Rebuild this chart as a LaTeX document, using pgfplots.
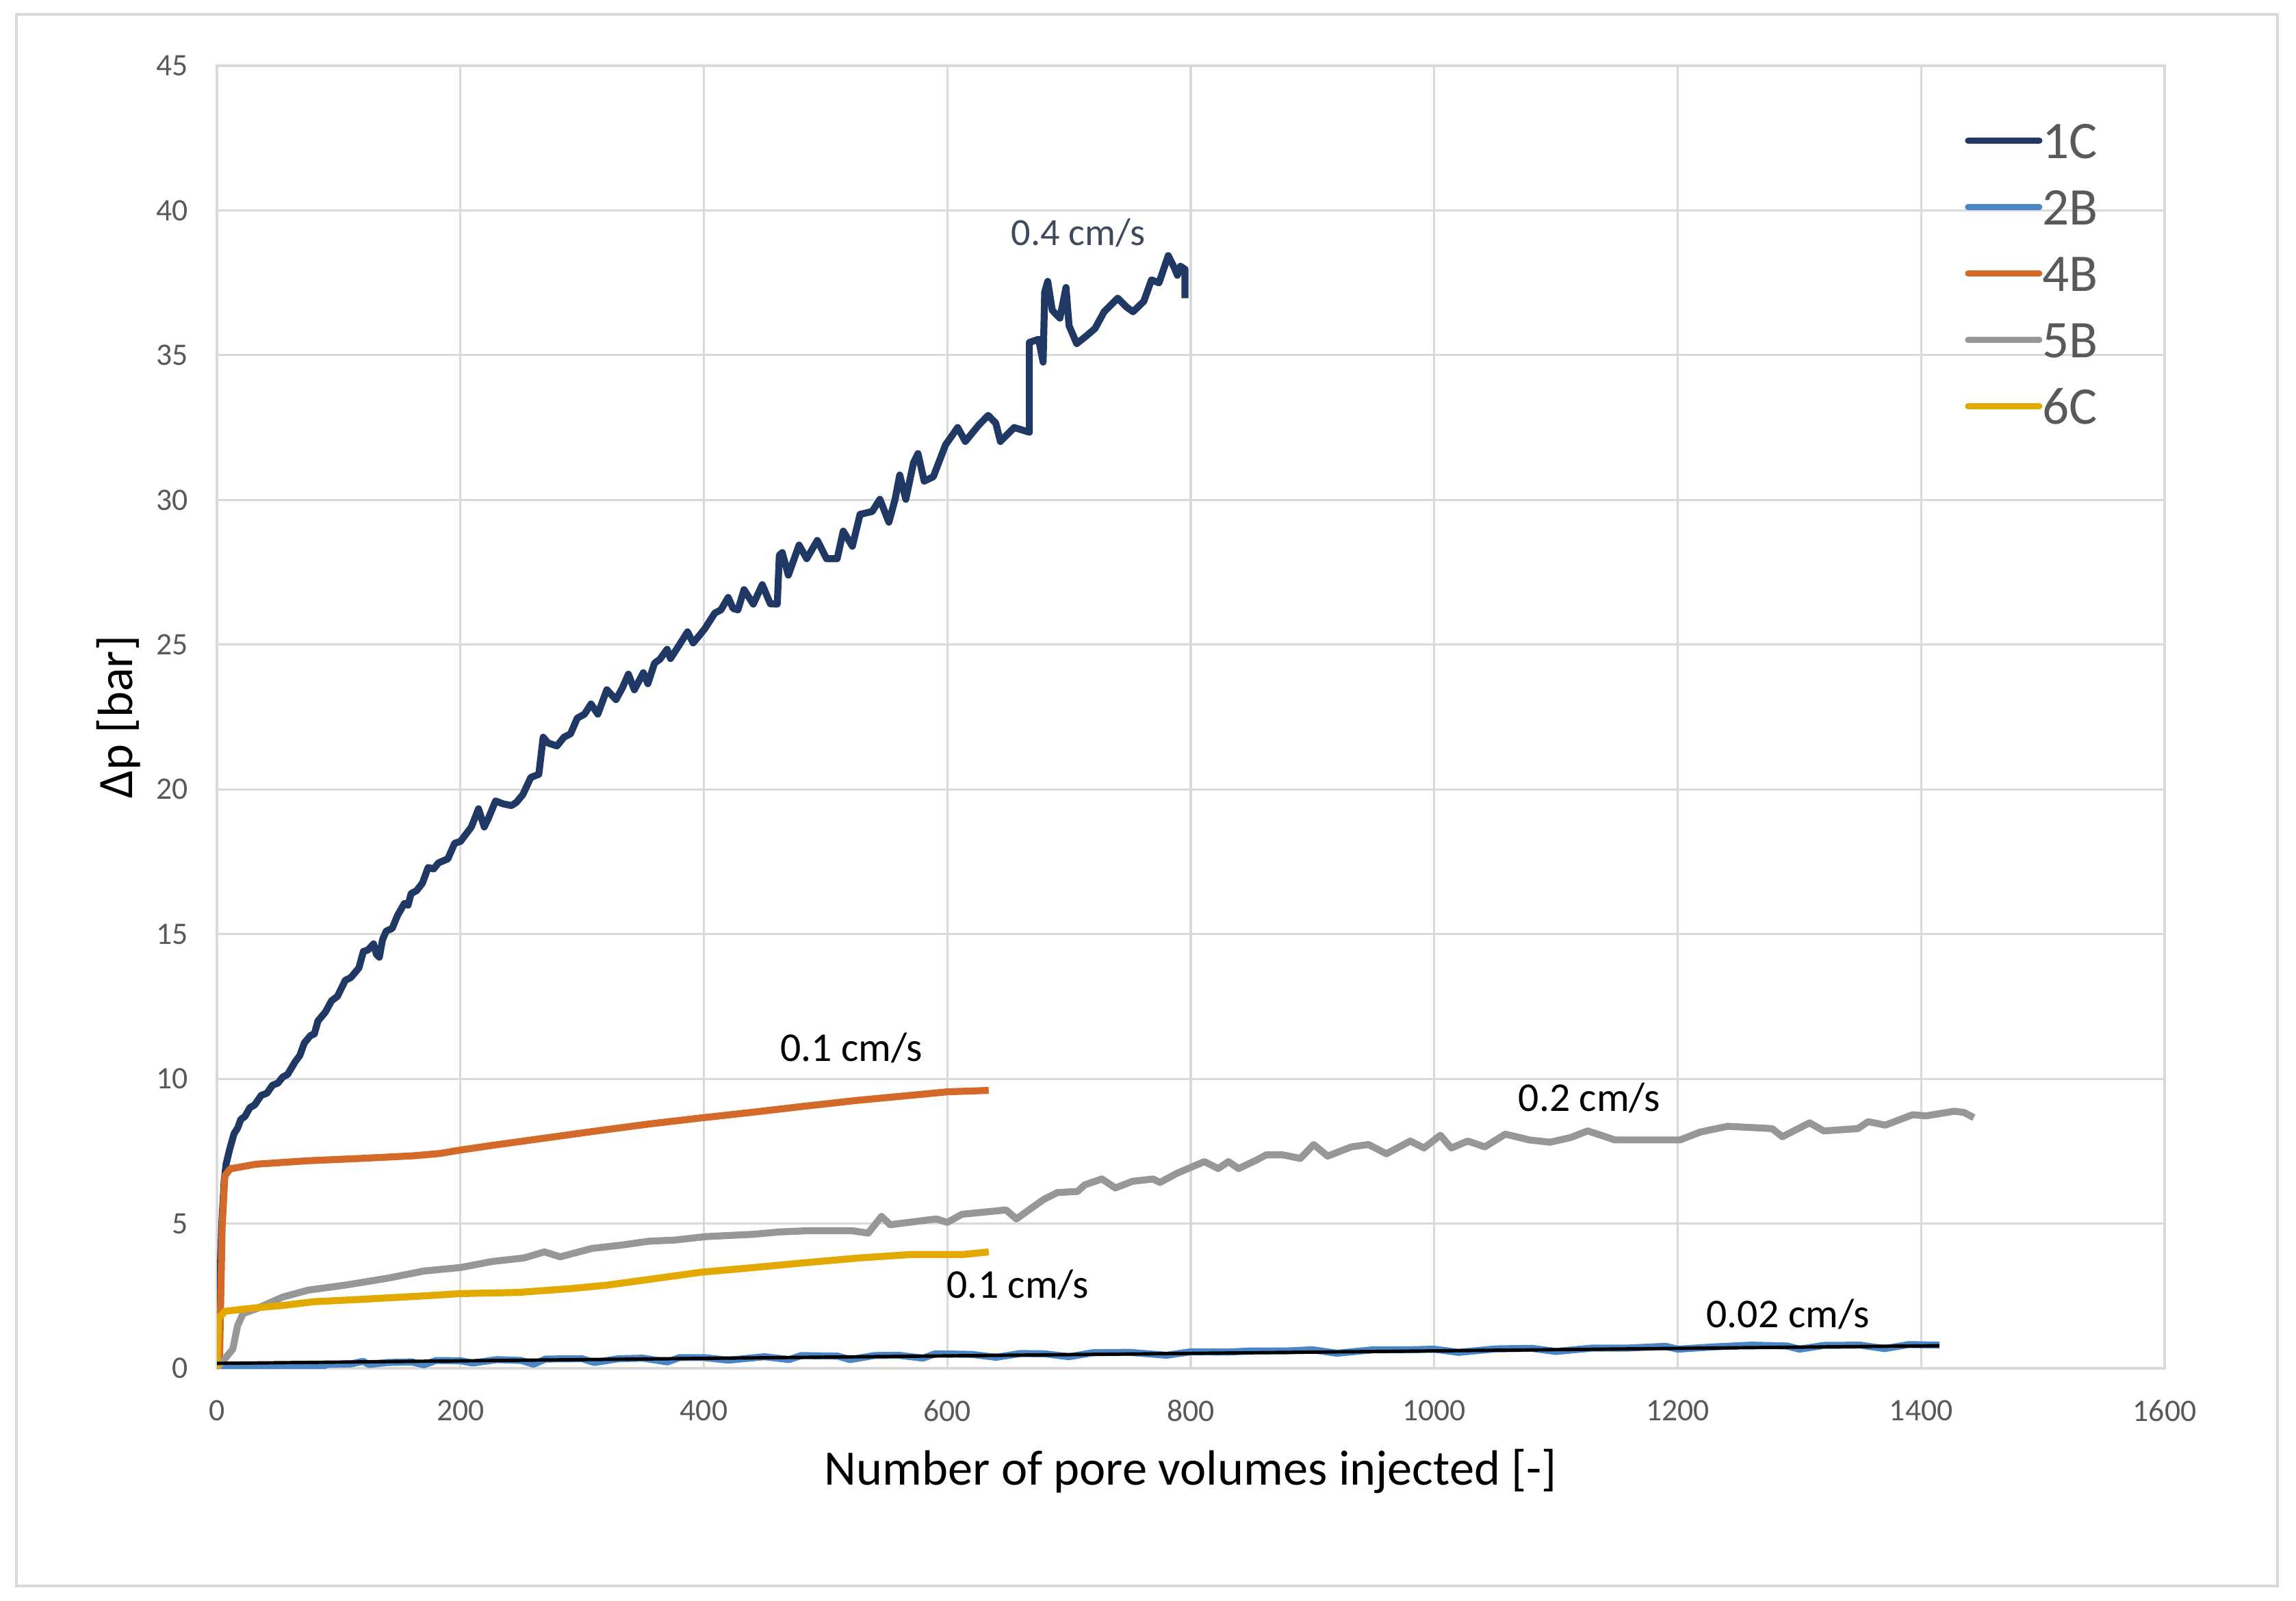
\documentclass[border=0pt]{standalone}
\usepackage{fontspec}
\setmainfont{Carlito}
\usepackage{pgfplots}
\pgfplotsset{compat=1.18}

\definecolor{c1C}{HTML}{1F3864}
\definecolor{c2B}{HTML}{4A86C5}
\definecolor{c4B}{HTML}{D46A29}
\definecolor{c5B}{HTML}{979797}
\definecolor{c6C}{HTML}{E2A900}
\definecolor{gridgray}{HTML}{D9D9D9}
\definecolor{ticktext}{HTML}{595959}
\definecolor{note04}{HTML}{3F4A5C}

\begin{document}
\begin{tikzpicture}
% page size and chart frame (1 px of the reference = 0.005 cm)
\path (-1.585,-1.695) rectangle (15.19,9.995);
\draw[gridgray, line width=0.55pt] (-1.465,-1.59) rectangle (15.055,9.89);

\begin{axis}[
    at={(0,0)}, anchor=south west,
    scale only axis, width=14.23cm, height=9.515cm,
    xmin=0, xmax=1600, ymin=0, ymax=45,
    xtick={0,200,...,1600}, ytick={0,5,...,45},
    grid=major,
    grid style={draw=gridgray, line width=0.45pt},
    axis line style={draw=gridgray, line width=0.45pt},
    major tick length=0pt,
    /pgf/number format/assume math mode=true,
    /pgf/number format/1000 sep={},
    scaled ticks=false,
    tick label style={font=\fontsize{6.5}{7.5}\selectfont, text=ticktext, inner sep=0pt},
    yticklabel style={anchor=east, xshift=-0.205cm},
    xticklabel style={anchor=north, yshift=-0.225cm},
    xlabel={Number of pore volumes injected [-]},
    ylabel={Δp [bar]},
    label style={font=\fontsize{10.3}{12}\selectfont},
    xlabel style={at={(axis description cs:0.5,-0.0793)}, anchor=center},
    ylabel style={at={(axis description cs:-0.0506,0.5)}, anchor=center},
    legend style={at={(0.897,0.9558)}, anchor=north west, draw=none, fill=none,
        font=\fontsize{11}{13}\selectfont, text=ticktext, inner sep=0pt,
        row sep=0.235cm, column sep=0pt,
        nodes={inner sep=0pt, text height=0.25cm, text depth=0pt}},
    legend cell align=left,
    legend image code/.code={\draw[#1, line width=1.3pt, line cap=round] (0cm,0.005cm) -- (0.52cm,0.005cm);},
    every axis plot/.append style={line width=1.45pt, line join=round},
]

% 1C
\addplot[c1C] coordinates {
(0,0)(2,2.5)(4,5)(6,6.5)(7.5,7.05)(10.3,7.54)(14,8.1)(17,8.3)(19.6,8.6)(23,8.7)(27,9.0)
(31,9.1)(36.4,9.43)(41,9.5)(45.7,9.78)(50,9.85)(54,10.06)(58,10.15)(64.4,10.6)(68,10.8)
(71.8,11.24)(77,11.5)(80,11.55)(83,12.0)(89,12.3)(94.2,12.7)(99,12.85)(105.4,13.4)
(110,13.5)(116.6,13.83)(120.3,14.4)(124,14.45)(128.7,14.66)(131,14.3)(133.4,14.2)(136,14.8)
(139,15.1)(144,15.2)(148.3,15.64)(154,16.06)(157,16.0)(159.5,16.4)(164,16.5)(168.8,16.76)
(173.5,17.3)(178,17.25)(182,17.46)(189.7,17.6)(195.3,18.14)(200,18.2)(204.7,18.46)
(209,18.7)(214.9,19.33)(219.6,18.7)(223,19.0)(228.9,19.6)(235,19.5)(242,19.44)(246,19.55)
(251.3,19.82)(257.8,20.41)(264.4,20.52)(268,21.8)(272,21.6)(279.3,21.5)(285,21.8)
(290.5,21.92)(296,22.46)(302,22.6)(307.3,22.95)(312.9,22.6)(320.3,23.44)(327.8,23.1)
(333,23.5)(338,23.98)(342.9,23.44)(350.3,24.03)(354,23.65)(359.5,24.36)(364,24.5)
(369.8,24.84)(372.6,24.52)(380,25.0)(386.6,25.44)(391.2,25.06)(396,25.3)(400.6,25.54)
(409,26.09)(414,26.2)(420,26.63)(424,26.25)(428,26.2)(433,26.9)(440.6,26.4)(448,27.07)
(454.6,26.41)(460.3,26.4)(462,28.09)(464.4,28.18)(469.4,27.4)(478.2,28.44)(484.5,27.97)
(493.2,28.6)(500.8,27.97)(509.5,27.97)(514.5,28.92)(522,28.4)(528.3,29.5)(538.3,29.6)
(544.6,30.02)(552,29.23)(557.1,30.02)(560.9,30.86)(565.9,30.02)(572.2,31.28)(575.9,31.6)
(581,30.65)(588.5,30.8)(598.5,31.9)(608.5,32.5)(614.8,32.02)(626.1,32.6)(633.6,32.92)
(639.8,32.65)(643.6,32.02)(654.9,32.5)(667.4,32.34)(667.4,35.44)(675,35.55)(678.7,34.76)
(680,37.18)(682.5,37.55)(686.2,36.55)(692.5,36.28)(697.5,37.34)(700,36.02)(706.3,35.4)
(713.8,35.65)(721.3,35.92)(728.8,36.5)(740,36.97)(747.6,36.65)(752.6,36.5)(761.4,36.86)
(767.7,37.6)(773.9,37.5)(781.5,38.44)(786.5,38.02)(789,37.76)(791.5,38.07)(795.2,37.97)
(795.2,36.97)
};
\addlegendentry{1C}

% 2B
\addplot[c2B] coordinates {
(0,0.0)(3,0.12)(8,0.04)(15,0.07)(25,0.03)(30,0.1)(45,0.06)(60,0.04)(70,0.09)(85,0.02)
(90,0.13)(110,0.15)(120,0.24)(125,0.13)(140,0.2)(160,0.22)(170,0.12)(180,0.27)(200,0.26)
(210,0.18)(230,0.3)(250,0.27)(260,0.14)(270,0.32)(300,0.33)(310,0.2)(330,0.33)(350,0.35)
(370,0.22)(380,0.37)(400,0.37)(420,0.28)(450,0.4)(470,0.3)(480,0.44)(510,0.42)(520,0.3)
(540,0.44)(560,0.45)(580,0.35)(590,0.5)(620,0.48)(640,0.38)(660,0.51)(680,0.5)(700,0.4)
(720,0.54)(750,0.55)(780,0.45)(800,0.57)(830,0.56)(850,0.6)(880,0.6)(900,0.64)(920,0.52)
(950,0.64)(980,0.64)(1000,0.66)(1020,0.55)(1050,0.67)(1080,0.69)(1100,0.58)(1130,0.7)
(1160,0.7)(1190,0.76)(1200,0.66)(1230,0.74)(1260,0.8)(1290,0.77)(1300,0.66)(1320,0.79)
(1350,0.8)(1370,0.68)(1390,0.82)(1415,0.8)
};
\addlegendentry{2B}

% 4B
\addplot[c4B] coordinates {
(0,0)(2.2,0.4)(4.3,4.9)(6.5,6.64)(10.8,6.89)(32,7.05)(50,7.1)(75,7.17)(118,7.25)(161,7.34)
(183,7.42)(200,7.54)(226,7.7)(269,7.95)(312,8.2)(355,8.44)(398,8.65)(441,8.85)(484,9.06)
(527,9.26)(570,9.43)(600,9.55)(634,9.6)
};
\addlegendentry{4B}

% 5B
\addplot[c5B] coordinates {
(0,0)(6.5,0.33)(13,0.66)(17,1.48)(21.5,1.89)(32,2.05)(54,2.46)(75,2.7)(105,2.87)(140,3.11)
(170,3.36)(200,3.48)(226,3.69)(252,3.81)(269,4.02)(282,3.85)(308,4.14)(333,4.26)(355,4.39)
(376,4.43)(402,4.55)(441,4.63)(462,4.71)(484,4.75)(522,4.75)(535,4.67)(546,5.25)(553,4.96)
(591,5.16)(600,5.04)(612,5.32)(648.3,5.47)(656.7,5.16)(679,5.83)(690.4,6.07)(707,6.11)
(713,6.34)(727,6.54)(738,6.23)(752.2,6.46)(769,6.54)(774.7,6.42)(788.8,6.74)(811.2,7.14)
(822.5,6.9)(831,7.14)(839.3,6.9)(853.4,7.18)(861.8,7.37)(876,7.37)(890,7.25)(901,7.73)
(912.4,7.33)(932,7.65)(946,7.73)(960.7,7.41)(980.3,7.85)(991.6,7.61)(1005,8.05)(1014,7.61)
(1027.5,7.85)(1041.6,7.65)(1058.4,8.09)(1078,7.89)(1095,7.81)(1112,7.97)(1126,8.2)
(1137,8.05)(1148.3,7.89)(1179,7.89)(1202,7.89)(1218.5,8.16)(1241,8.36)(1277.5,8.28)
(1286,8.0)(1308.4,8.48)(1320,8.2)(1348,8.28)(1356.5,8.52)(1370.6,8.4)(1393,8.76)(1404,8.72)
(1427,8.88)(1435,8.84)(1443.3,8.66)
};
\addlegendentry{5B}

% 6C
\addplot[c6C] coordinates {
(0,0)(1.3,1.72)(6.5,1.97)(32,2.09)(54,2.17)(79.6,2.3)(118,2.38)(170,2.5)(200,2.58)(247,2.62)
(290,2.75)(320,2.87)(355,3.07)(398,3.32)(441,3.48)(484,3.65)(527,3.81)(570,3.93)(613,3.93)
(634,4.02)
};
\addlegendentry{6C}

% linear trend line of 2B
\addplot[black, line width=0.7pt, forget plot] coordinates {(0,0.17)(1415,0.78)};

\node[font=\fontsize{8}{9}\selectfont, text=note04] at (axis cs:707.5,39.23) {0.4 cm/s};
\node[font=\fontsize{8.5}{9}\selectfont] at (axis cs:521,11.07) {0.1 cm/s};
\node[font=\fontsize{8.5}{9}\selectfont] at (axis cs:1127.5,9.35) {0.2 cm/s};
\node[font=\fontsize{8.5}{9}\selectfont] at (axis cs:658,2.89) {0.1 cm/s};
\node[font=\fontsize{8.5}{9}\selectfont] at (axis cs:1290.5,1.86) {0.02 cm/s};
\end{axis}
\end{tikzpicture}
\end{document}
